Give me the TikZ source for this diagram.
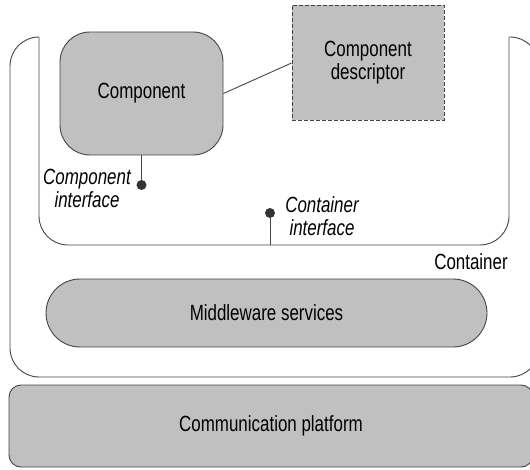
\documentclass[tikz,border=0pt]{standalone}
\usepackage{fontspec}
\setmainfont{Liberation Sans}[FakeStretch=0.77]
\definecolor{boxgray}{HTML}{C0C0C0}
\definecolor{linegray}{HTML}{454545}
\begin{document}
\begin{tikzpicture}
    [x=1pt, y=-1pt,
    font=\fontsize{22}{23}\selectfont,
    frame/.style={draw=linegray, line width=0.9pt},
    greybox/.style={frame, fill=boxgray, align=center, inner sep=0pt},
    port/.style={circle, fill=black!80, inner sep=0pt, minimum size=10pt},
    portlabel/.style={align=center, font=\fontsize{22}{23}\selectfont\itshape}]
    \useasboundingbox (0,0) rectangle (530,470);
    % container
    \draw [frame, rounded corners=29] (39,37) -- (39,245) -- (509,245) -- (509,37);
    \draw [frame, rounded corners=29] (509,37) -- (539,37) -- (539,377) -- (10,377) -- (10,37) -- (39,37);
    \node (container) at (471,262) {Container};
    % component and descriptor
    \node [greybox, rounded corners=30, minimum width=163pt, minimum height=123pt]
        (comp) at (141.5,93.5) {Component};
    \node [greybox, dash pattern=on 4pt off 2pt, minimum width=152pt, minimum height=115pt]
        (desc) at (368,63) {Component\\descriptor};
    \draw [frame] (comp.east) -- (desc.west);
    % interfaces
    \node [port] (compport) at (141.5,185) {};
    \draw [frame] (comp.south) -- (compport);
    \node [portlabel] (complabel) at (87,188) {Component\\interface};
    \node [port] (contport) at (270,213) {};
    \coordinate (contbase) at (270,245);
    \draw [frame] (contport) -- (contbase);
    \node [portlabel] (contlabel) at (322,216) {Container\\interface};
    % services and platform
    \node [greybox, rounded corners=34, minimum width=441pt, minimum height=68pt]
        (middleware) at (266.5,313) {Middleware services};
    \node [greybox, rounded corners=12, minimum width=524pt, minimum height=82pt]
        (platform) at (271,426) {Communication platform};
\end{tikzpicture}
\end{document}
